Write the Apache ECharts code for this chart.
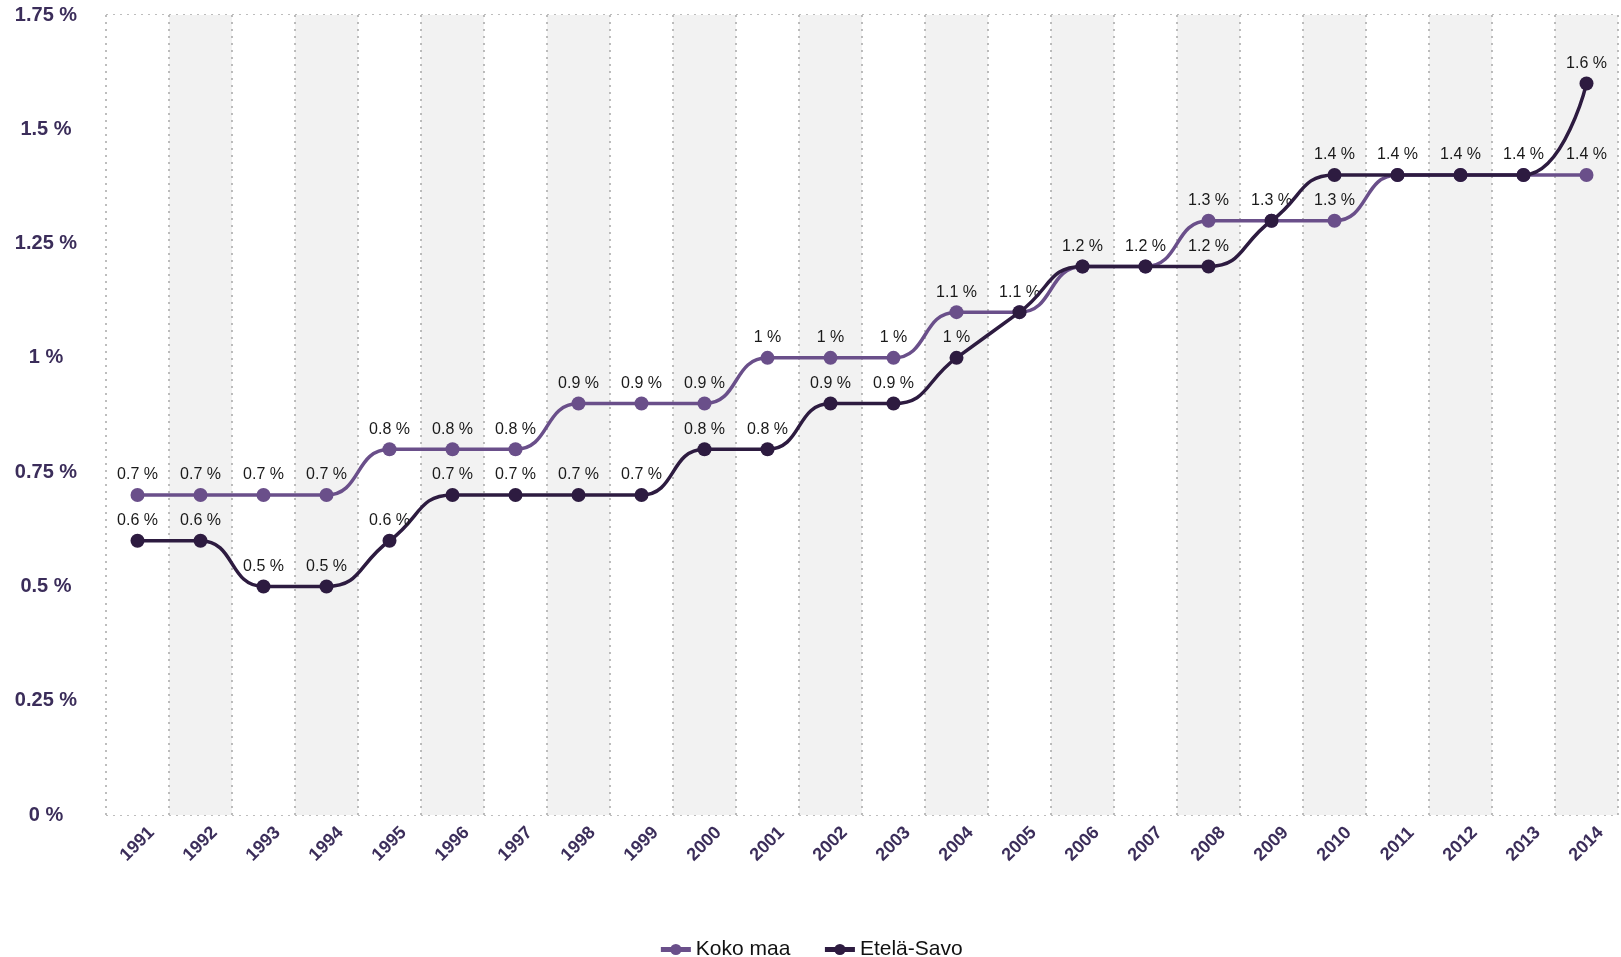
<!DOCTYPE html>
<html>
<head>
<meta charset="utf-8">
<script src="https://cdn.jsdelivr.net/npm/echarts@6/dist/echarts.min.js"></script>
<style>html,body{margin:0;padding:0;background:#fff}#c{width:1621px;height:957px}</style>
</head>
<body>
<div id="c"></div>
<script>
const years = ['1991','1992','1993','1994','1995','1996','1997','1998','1999','2000','2001','2002','2003','2004','2005','2006','2007','2008','2009','2010','2011','2012','2013','2014'];
const kokoMaa = [0.7,0.7,0.7,0.7,0.8,0.8,0.8,0.9,0.9,0.9,1.0,1.0,1.0,1.1,1.1,1.2,1.2,1.3,1.3,1.3,1.4,1.4,1.4,1.4];
const etelaSavo = [0.6,0.6,0.5,0.5,0.6,0.7,0.7,0.7,0.7,0.8,0.8,0.9,0.9,1.0,1.1,1.2,1.2,1.2,1.3,1.4,1.4,1.4,1.4,1.6];
const seriesNames = ['Koko maa','Etelä-Savo'];

const chart = echarts.init(document.getElementById('c'));
const fmt = v => (Math.round(v*100)/100) + ' %';
const FF = 'Liberation Sans, Arial, sans-serif';
const lbl = {show:true, position:'top', distance:5, color:'#1a1a1a', fontSize:16, fontFamily:FF, formatter: p => fmt(p.value)};
chart.setOption({
  animation:false,
  grid:{left:106, right:3, top:15, bottom:142},
  legend:{
    top:934, left:'center', itemWidth:30, itemHeight:14, itemGap:32,
    lineStyle:{width:5},
    textStyle:{fontSize:21, color:'#111', fontFamily:FF},
    data:seriesNames
  },
  xAxis:{
    type:'category', data:years, boundaryGap:true,
    axisLine:{show:false}, axisTick:{show:false},
    axisLabel:{rotate:45, align:'center', verticalAlign:'middle', margin:29, fontSize:18, fontWeight:'bold', color:'#3b2d5a', fontFamily:FF, interval:0},
    splitLine:{show:true, interval:0, lineStyle:{type:[2,5], color:'#a8a8a8', width:1.5}},
    splitArea:{show:true, interval:0, areaStyle:{color:['#ffffff','#f2f2f2']}}
  },
  yAxis:{
    type:'value', min:0, max:1.75, interval:0.25,
    axisLine:{show:false}, axisTick:{show:false},
    axisLabel:{align:'center', margin:60, fontSize:20, fontWeight:'bold', color:'#3b2d5a', fontFamily:FF, formatter: v => fmt(v)},
    splitLine:{lineStyle:{type:[2,5], color:'#a8a8a8', width:1.5}}
  },
  labelLayout:{hideOverlap:true},
  series:[
    {name:seriesNames[0], type:'line', data:kokoMaa, smooth:0.5, symbol:'circle', symbolSize:14,
     color:'#6a4f8a', lineStyle:{width:3.5}, label:lbl, z:2},
    {name:seriesNames[1], type:'line', data:etelaSavo, smooth:0.5, symbol:'circle', symbolSize:14,
     color:'#2d1b40', lineStyle:{width:3.5}, label:lbl, z:3}
  ]
});
</script>
</body>
</html>
